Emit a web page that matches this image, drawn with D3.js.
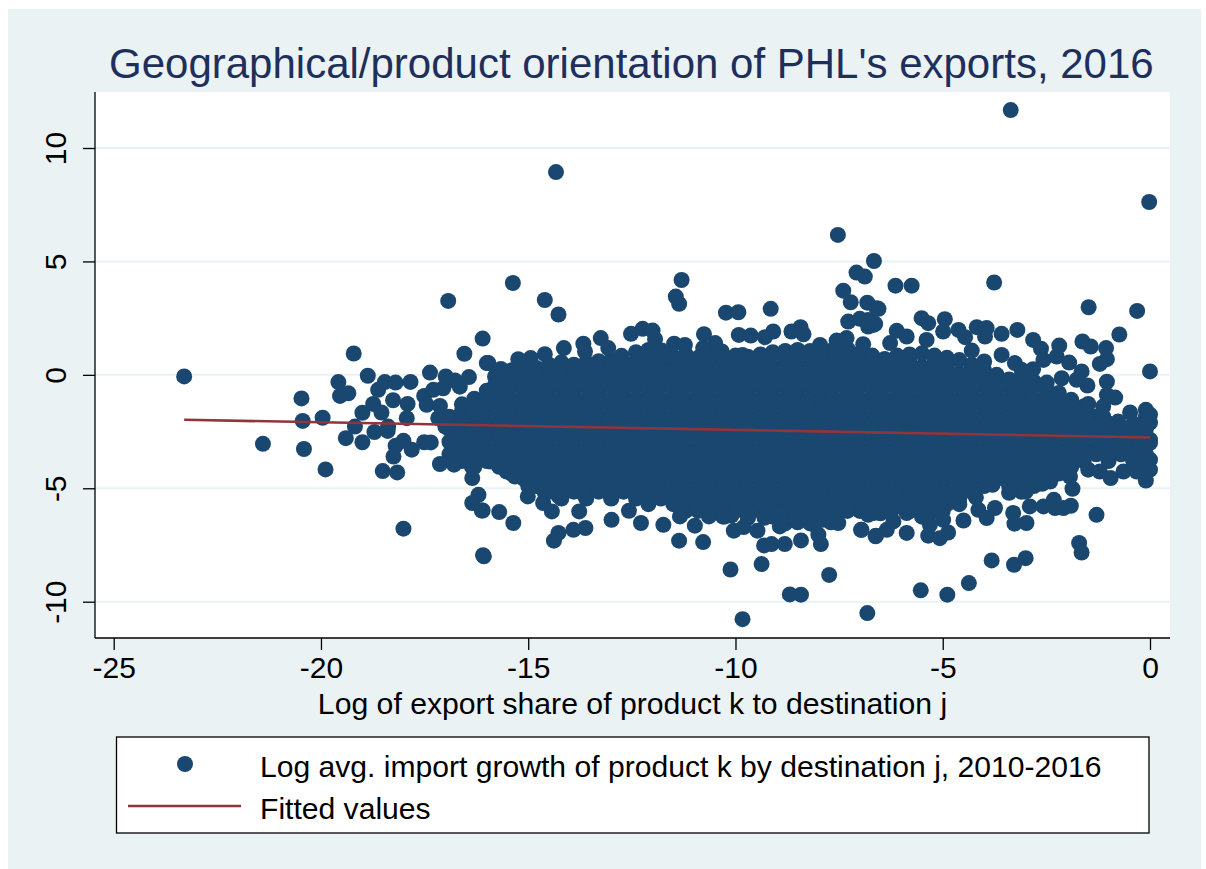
<!DOCTYPE html>
<html>
<head>
<meta charset="utf-8">
<script src="https://cdn.jsdelivr.net/npm/d3@7"></script>
<style>
body { margin: 0; background: #fff; }
text { font-family: "Liberation Sans", Arial, sans-serif; fill: #000; }
</style>
</head>
<body>
<div id="graph"></div>
<script>
"use strict";

var xTicks = [-25, -20, -15, -10, -5, 0];
var yTicks = [-10, -5, 0, 5, 10];

var titleText = "Geographical/product orientation of PHL's exports, 2016";
var xTitleText = "Log of export share of product k to destination j";
var legendLabels = ["Log avg. import growth of product k by destination j, 2010-2016", "Fitted values"];

// fitted line end points
var fittedX = [-23.3, 0];
var fittedY = [-1.98, -2.76];

// points clearly readable at the far left
var leftTail = [[-23.3,-0.07],[-20.47,-1.04],[-20.44,-2.03],[-19.96,-1.89],[-21.4,-3.04],[-20.41,-3.27],[-19.89,-4.17],
[-19.21,0.94],[-19.58,-0.32],[-19.34,-0.81],[-19.54,-0.93],[-18.87,-0.04],[-19,-1.67],[-19.18,-2.28],[-18.74,-1.28],
[-18.54,-1.66],[-19.4,-2.79],[-19,-2.97],[-18.71,-2.52],[-18.38,-2.28],[-18.39,-2.47],[-18.62,-0.66],[-18.46,-0.32],
[-18.2,-0.34],[-17.84,-0.31],[-18.26,-1.12],[-17.91,-1.28],[-17.93,-1.91],[-18.01,-2.91],[-18.2,-3.13],[-17.81,-3.3],
[-18.25,-3.6],[-18.51,-4.24],[-18.16,-4.3],[-17.51,-2.97],[-17.35,-2.98],[-18.01,-6.78],[-16.93,3.26],[-16.1,1.6],
[-16.54,0.93],[-16,0.52],[-17.37,0.1],[-16.99,-0.07],[-16.77,-0.25],[-16.43,-0.1],[-17.51,-0.93],[-17.29,-0.66],
[-17.05,-0.59],[-16.65,-0.52],[-17.45,-1.32],[-17.13,-1.37],[-17.17,-1.91],[-17,-2.28],[-17.13,-3.93],[-16.79,-3.96],
[-16.35,-4.55],[-16.36,-4.04],[-16.2,-5.29],[-16.35,-5.65],[-16.12,-5.98],[-16.09,-7.95]];

// points above the dense cloud
var upperEdge = [[-3.36,11.67],[-14.33,8.94],[-0.02,7.62],[-7.53,6.17],[-6.66,5.02],[-7.08,4.51],[-6.88,4.33],[-15.37,4.05],
[-14.6,3.3],[-14.27,2.66],[-11.3,4.18],[-11.44,3.45],[-11.36,3.13],[-10.23,2.74],[-9.93,2.76],[-9.15,2.91],[-7.4,3.71],
[-7.22,3.2],[-6.82,3.18],[-6.6,2.94],[-7.28,2.35],[-7,2.47],[-6.8,2.42],[-6.8,2.13],[-6.63,2.25],[-6.92,1.35],[-7.56,1.51],
[-7.32,1.62],[-7.96,1.32],[-8.43,2.1],[-8.65,1.91],[-8.36,1.79],[-9.09,1.91],[-9.29,1.66],[-9.92,1.76],[-9.63,1.73],
[-10.76,1.79],[-10.49,1.4],[-10.78,1.18],[-10.33,1.03],[-9.83,0.88],[-11.48,1.37],[-11.22,1.32],[-12.52,1.81],[-12.24,2.03],
[-12,1.95],[-11.94,1.57],[-11.78,1.07],[-12.34,0.84],[-13.25,1.62],[-13.07,1.18],[-13.67,1.37],[-13.63,1.03],[-14.14,1.18],
[-12.75,0.84],[-14.6,0.91],[-15.24,0.69],[-14.94,0.74],[-15.96,0.52],[-15.66,0.26],[-15.8,-0.07],[-15.8,-0.44],[-15.25,-0.07],
[-6.14,3.93],[-5.75,3.93],[-3.76,4.07],[-6.55,2.91],[-1.48,2.98],[-0.31,2.82],[-0.74,1.78],[-5.51,2.5],[-5.35,2.28],[-4.95,2.45],
[-6.67,2.2],[-6.11,1.94],[-5.87,1.69],[-6.27,1.4],[-5.39,1.54],[-4.99,1.91],[-4.62,1.98],[-4.46,1.66],[-4.3,1.07],[-4.18,2.1],
[-3.94,2.06],[-3.98,1.69],[-3.58,1.81],[-3.2,1.98],[-2.82,1.54],[-2.63,1.15],[-2.19,1.29],[-1.63,1.47],[-1.43,1.25],[-1.06,1.18],
[-1.04,0.69],[-1.21,0.48],[0,0.15],[-3.58,0.88],[-3.26,0.52],[-4,0.59],[-1.95,0.54],[-2.25,0.81],[-2.57,0.66],[-1.65,0.15],
[-2.82,0.25],[-3.1,0.22],[-1.51,-0.47],[-1.04,-0.3],[-1.77,-0.22],[-2.13,-0.15],[-2.49,-0.34],[-2.93,-0.3],[-2.07,-1.18],
[-1.04,-0.88],[-0.84,-1],[-1.49,-1.28],[-1.13,-1.4],[-0.48,-1.66],[-0.1,-1.54],[0,-1.76],[0,-2.11],[-0.77,-2.06],[-1.13,-1.84],
[-1.77,-1.69],[-2.01,-1.62]];

// points below the dense cloud
var lowerEdge = [[0,-2.86],[0,-3],[-0.2,-3.08],[0,-3.74],[0,-4.18],[-0.1,-4.66],[-0.32,-4.26],[-0.64,-4.26],[-0.95,-4.55],
[-1.21,-4.26],[-1.49,-4.18],[-0.41,-3.74],[-1.87,-5.02],[-1.93,-4.48],[-2.41,-4.7],[-1.29,-6.17],[-1.71,-7.41],[-1.65,-7.83],
[-3,-8.08],[-3.28,-8.37],[-3.82,-8.18],[-4.37,-9.18],[-4.89,-9.69],[-5.53,-9.5],[-1.91,-5.77],[-2.09,-5.87],[-2.32,-5.51],
[-2.29,-5.87],[-2.57,-5.8],[-2.9,-5.8],[-2.98,-6.53],[-3.27,-6.56],[-3.3,-6.09],[-3.94,-6.31],[-4.14,-5.95],[-3.74,-5.87],
[-4.5,-6.42],[-4.87,-6.95],[-5.07,-7.2],[-5.35,-7.09],[-5.31,-6.61],[-4.99,-6.39],[-5.87,-6.97],[-6.61,-7.09],[-6.35,-6.83],
[-6.96,-6.83],[-6.19,-6.46],[-5.87,-6.09],[-6.67,-6.09],[-9.83,-10.77],[-6.82,-10.5],[-8.69,-9.68],[-8.42,-9.69],[-7.74,-8.82],
[-10.12,-8.58],[-9.37,-8.34],[-16.07,-8],[-14.38,-7.31],[-14.27,-6.97],[-13.91,-6.83],[-13.62,-6.75],[-12.99,-6.39],[-13.77,-6.02],
[-14.43,-6.02],[-14.64,-5.65],[-15.01,-5.36],[-15.36,-6.53],[-15.7,-6.05],[-16.1,-5.98],[-15.92,-3.82],[-15.52,-4.26],[-15.32,-4.48],
[-14.96,-4.48],[-14.26,-5.36],[-13.65,-5.29],[-12.99,-5.43],[-12.57,-5.99],[-12.28,-6.53],[-11.74,-6.61],[-11.36,-7.31],[-10.78,-7.37],
[-10.98,-6.65],[-11.34,-6.24],[-10.64,-6.24],[-10.25,-6.24],[-10.04,-6.87],[-9.8,-6.71],[-9.47,-6.87],[-9.31,-7.52],[-9.13,-7.46],
[-8.81,-7.46],[-8.42,-7.3],[-7.94,-7.46],[-8,-7.05],[-8.93,-6.68],[-8.53,-6.39],[-7.52,-6.53],[-7.88,-6.39],[-6.97,-6.83],[-6.62,-7.12],
[-6.8,-6.17]];

// outline of the solid cloud, top side
var cloudTop = [[-16.6,-1.3],[-16.3,-1.05],[-16,-0.7],[-15.7,-0.3],[-15.4,0.2],[-15.1,0.25],[-14.8,0.3],[-14.5,0.45],[-14.2,0.55],
[-13.9,0.45],[-13.6,0.55],[-13.3,0.6],[-13,0.65],[-12.7,0.55],[-12.4,1],[-12.1,1.1],[-11.8,0.85],[-11.5,0.8],[-11.2,0.9],[-10.9,0.75],
[-10.6,0.85],[-10.3,0.7],[-10,0.85],[-9.7,0.8],[-9.4,0.9],[-9.1,1],[-8.8,1.05],[-8.5,1.1],[-8.2,1.05],[-7.9,1.1],[-7.6,1.2],[-7.3,1.15],
[-7,0.95],[-6.7,0.85],[-6.4,0.7],[-6.1,0.85],[-5.8,0.9],[-5.5,0.95],[-5.2,0.85],[-4.9,0.75],[-4.6,0.65],[-4.3,0.45],[-4,0.2],[-3.7,0],
[-3.4,-0.2],[-3.1,-0.1],[-2.8,-0.3],[-2.5,-0.55],[-2.2,-0.8],[-1.9,-1.1],[-1.6,-1.4]];

// outline of the solid cloud, bottom side
var cloudBottom = [[-15,-4.9],[-14.6,-5.2],[-11.3,-5.9],[-10.9,-6],[-10.5,-6],[-10.1,-6.2],[-9.7,-6.3],[-9.3,-6.3],[-8.9,-6.4],[-8.5,-6.5],
[-8.1,-6.6],[-7.7,-6.5],[-7.3,-6],[-6.9,-6],[-6.5,-6.1],[-6.2,-5.9],[-5.8,-6],[-5.4,-6.2],[-5,-6],[-4.6,-5.7],[-4.2,-5.4],[-3.8,-4.85],
[-3.4,-5.2],[-3,-5.15],[-2.6,-4.8],[-2.2,-4.3]];

// the solid middle of the cloud, where single points can only be estimated
var denseX = [-16.9,-16.6,-16.3,-16,-15.7,-15.4,-15.1,-14.8,-14.5,-14.2,-13.9,-13.6,-13.3,-13,-12.7,-12.4,-12.1,-11.8,-11.5,-11.2,
-10.9,-10.6,-10.3,-10,-9.7,-9.4,-9.1,-8.8,-8.5,-8.2,-7.9,-7.6,-7.3,-7,-6.7,-6.4,-6.1,-5.8,-5.5,-5.2,-4.9,-4.6,-4.3,-4,-3.7,-3.4,
-3.1,-2.8,-2.5,-2.2,-1.9,-1.6,-1.3,-1,-0.7,-0.4,-0.1];
var denseY = [
[-1.85,-2.4,-2.95,-3.5],
[-1.6,-2.15,-2.7,-3.25,-3.8],
[-1.3,-1.85,-2.4,-2.95,-3.5,-4.05],
[-1.05,-1.6,-2.15,-2.7,-3.25,-3.8],
[-0.75,-1.3,-1.85,-2.4,-2.95,-3.5,-4.05],
[0.05,-0.5,-1.05,-1.6,-2.15,-2.7,-3.25,-3.8,-4.35],
[-0.2,-0.75,-1.3,-1.85,-2.4,-2.95,-3.5,-4.05,-4.6],
[0.05,-0.5,-1.05,-1.6,-2.15,-2.7,-3.25,-3.8,-4.35,-4.9],
[0.35,-0.2,-0.75,-1.3,-1.85,-2.4,-2.95,-3.5,-4.05,-4.6,-5.15],
[0.05,-0.5,-1.05,-1.6,-2.15,-2.7,-3.25,-3.8,-4.35,-4.9,-5.45],
[0.35,-0.2,-0.75,-1.3,-1.85,-2.4,-2.95,-3.5,-4.05,-4.6,-5.15],
[0.05,-0.5,-1.05,-1.6,-2.15,-2.7,-3.25,-3.8,-4.35,-4.9,-5.45],
[0.35,-0.2,-0.75,-1.3,-1.85,-2.4,-2.95,-3.5,-4.05,-4.6,-5.15],
[0.6,0.05,-0.5,-1.05,-1.6,-2.15,-2.7,-3.25,-3.8,-4.35,-4.9,-5.45],
[0.35,-0.2,-0.75,-1.3,-1.85,-2.4,-2.95,-3.5,-4.05,-4.6,-5.15],
[0.6,0.05,-0.5,-1.05,-1.6,-2.15,-2.7,-3.25,-3.8,-4.35,-4.9,-5.45],
[0.9,0.35,-0.2,-0.75,-1.3,-1.85,-2.4,-2.95,-3.5,-4.05,-4.6,-5.15,-5.7],
[0.6,0.05,-0.5,-1.05,-1.6,-2.15,-2.7,-3.25,-3.8,-4.35,-4.9,-5.45],
[0.35,-0.2,-0.75,-1.3,-1.85,-2.4,-2.95,-3.5,-4.05,-4.6,-5.15,-5.7],
[0.6,0.05,-0.5,-1.05,-1.6,-2.15,-2.7,-3.25,-3.8,-4.35,-4.9,-5.45,-6],
[0.35,-0.2,-0.75,-1.3,-1.85,-2.4,-2.95,-3.5,-4.05,-4.6,-5.15,-5.7],
[0.6,0.05,-0.5,-1.05,-1.6,-2.15,-2.7,-3.25,-3.8,-4.35,-4.9,-5.45,-6],
[0.35,-0.2,-0.75,-1.3,-1.85,-2.4,-2.95,-3.5,-4.05,-4.6,-5.15,-5.7,-6.25],
[0.6,0.05,-0.5,-1.05,-1.6,-2.15,-2.7,-3.25,-3.8,-4.35,-4.9,-5.45,-6],
[0.35,-0.2,-0.75,-1.3,-1.85,-2.4,-2.95,-3.5,-4.05,-4.6,-5.15,-5.7,-6.25],
[0.6,0.05,-0.5,-1.05,-1.6,-2.15,-2.7,-3.25,-3.8,-4.35,-4.9,-5.45,-6],
[0.9,0.35,-0.2,-0.75,-1.3,-1.85,-2.4,-2.95,-3.5,-4.05,-4.6,-5.15,-5.7,-6.25],
[0.6,0.05,-0.5,-1.05,-1.6,-2.15,-2.7,-3.25,-3.8,-4.35,-4.9,-5.45,-6,-6.55],
[0.9,0.35,-0.2,-0.75,-1.3,-1.85,-2.4,-2.95,-3.5,-4.05,-4.6,-5.15,-5.7,-6.25],
[0.6,0.05,-0.5,-1.05,-1.6,-2.15,-2.7,-3.25,-3.8,-4.35,-4.9,-5.45,-6,-6.55],
[0.9,0.35,-0.2,-0.75,-1.3,-1.85,-2.4,-2.95,-3.5,-4.05,-4.6,-5.15,-5.7,-6.25],
[1.15,0.6,0.05,-0.5,-1.05,-1.6,-2.15,-2.7,-3.25,-3.8,-4.35,-4.9,-5.45,-6],
[0.9,0.35,-0.2,-0.75,-1.3,-1.85,-2.4,-2.95,-3.5,-4.05,-4.6,-5.15,-5.7],
[0.6,0.05,-0.5,-1.05,-1.6,-2.15,-2.7,-3.25,-3.8,-4.35,-4.9,-5.45,-6],
[0.35,-0.2,-0.75,-1.3,-1.85,-2.4,-2.95,-3.5,-4.05,-4.6,-5.15,-5.7],
[0.6,0.05,-0.5,-1.05,-1.6,-2.15,-2.7,-3.25,-3.8,-4.35,-4.9,-5.45,-6],
[0.35,-0.2,-0.75,-1.3,-1.85,-2.4,-2.95,-3.5,-4.05,-4.6,-5.15,-5.7],
[0.6,0.05,-0.5,-1.05,-1.6,-2.15,-2.7,-3.25,-3.8,-4.35,-4.9,-5.45,-6],
[0.35,-0.2,-0.75,-1.3,-1.85,-2.4,-2.95,-3.5,-4.05,-4.6,-5.15,-5.7,-6.25],
[0.6,0.05,-0.5,-1.05,-1.6,-2.15,-2.7,-3.25,-3.8,-4.35,-4.9,-5.45,-6],
[0.35,-0.2,-0.75,-1.3,-1.85,-2.4,-2.95,-3.5,-4.05,-4.6,-5.15,-5.7],
[0.05,-0.5,-1.05,-1.6,-2.15,-2.7,-3.25,-3.8,-4.35,-4.9,-5.45],
[0.35,-0.2,-0.75,-1.3,-1.85,-2.4,-2.95,-3.5,-4.05,-4.6,-5.15],
[0.05,-0.5,-1.05,-1.6,-2.15,-2.7,-3.25,-3.8,-4.35,-4.9],
[-0.2,-0.75,-1.3,-1.85,-2.4,-2.95,-3.5,-4.05,-4.6],
[-0.5,-1.05,-1.6,-2.15,-2.7,-3.25,-3.8,-4.35,-4.9],
[-0.2,-0.75,-1.3,-1.85,-2.4,-2.95,-3.5,-4.05,-4.6,-5.15],
[-0.5,-1.05,-1.6,-2.15,-2.7,-3.25,-3.8,-4.35,-4.9],
[-0.75,-1.3,-1.85,-2.4,-2.95,-3.5,-4.05,-4.6],
[-1.05,-1.6,-2.15,-2.7,-3.25,-3.8,-4.35],
[-1.3,-1.85,-2.4,-2.95,-3.5,-4.05],
[-1.6,-2.15,-2.7,-3.25,-3.8],
[-1.85,-2.4,-2.95,-3.5],
[-2.15,-2.7,-3.25,-3.8],
[-2.4,-2.95,-3.5],
[-2.15,-2.7,-3.25,-3.8],
[-1.85,-2.4,-2.95,-3.5,-4.05]];

var markerColor = "#1a476f";
var fitColor = "#90353b";
var bgColor = "#eaf2f3";

var width = 1206, height = 869;
var plot = {left: 95, right: 1170, top: 92, bottom: 638};

var x = d3.scaleLinear().domain([-25, 0]).range([113.7, 1150]);
var y = d3.scaleLinear().domain([10, -10]).range([148, 601.7]);

var svg = d3.select("#graph").append("svg")
    .attr("width", width)
    .attr("height", height)
    .style("display", "block");

svg.append("rect").attr("x", 8).attr("y", 9).attr("width", 1193).attr("height", 860).attr("fill", bgColor);
svg.append("rect")
    .attr("x", plot.left).attr("y", plot.top)
    .attr("width", plot.right - plot.left).attr("height", plot.bottom - plot.top)
    .attr("fill", "#fff");

// horizontal grid
svg.append("g").selectAll("line").data(yTicks).enter().append("line")
    .attr("x1", plot.left).attr("x2", plot.right)
    .attr("y1", function (d) { return y(d); })
    .attr("y2", function (d) { return y(d); })
    .attr("stroke", bgColor)
    .attr("stroke-width", 2);

// points
var densePoints = [];
denseX.forEach(function (cx, i) {
    denseY[i].forEach(function (cy) { densePoints.push([cx, cy]); });
});
var points = densePoints.concat(cloudTop, cloudBottom, leftTail, upperEdge, lowerEdge);

svg.append("g").selectAll("circle").data(points).enter().append("circle")
    .attr("cx", function (d) { return x(d[0]); })
    .attr("cy", function (d) { return y(d[1]); })
    .attr("r", 8)
    .attr("fill", markerColor);

// fitted line
var fitted = d3.line()
    .x(function (d) { return x(d); })
    .y(function (d, i) { return y(fittedY[i]); });
svg.append("path").datum(fittedX)
    .attr("d", fitted)
    .attr("fill", "none")
    .attr("stroke", fitColor)
    .attr("stroke-width", 2.6);

// axes
var xAxis = d3.axisBottom(x).tickValues(xTicks).tickFormat(d3.format("d")).tickSize(12).tickSizeOuter(0).tickPadding(6);
var yAxis = d3.axisLeft(y).tickValues(yTicks).tickFormat(d3.format("d")).tickSize(12).tickSizeOuter(0);

var xG = svg.append("g").attr("transform", "translate(0," + plot.bottom + ")").call(xAxis);
var yG = svg.append("g").attr("transform", "translate(" + plot.left + ",0)").call(yAxis);

xG.select(".domain").attr("d", "M" + plot.left + ",0H" + plot.right);
yG.select(".domain").attr("d", "M0," + plot.top + "V" + plot.bottom);

xG.selectAll("line, .domain").attr("stroke", "#000").attr("stroke-width", 1.3);
yG.selectAll("line, .domain").attr("stroke", "#000").attr("stroke-width", 1.3);

// replace the default tick minus sign with the plain hyphen of the original
xG.selectAll("text")
    .attr("font-size", 30)
    .attr("dy", null)
    .attr("y", 40)
    .text(function (d) { return String(d); });
yG.selectAll("text")
    .attr("font-size", 30)
    .attr("x", null)
    .attr("dy", null)
    .attr("text-anchor", "middle")
    .attr("transform", "translate(-29.5,0) rotate(-90)")
    .text(function (d) { return String(d); });

svg.append("text")
    .attr("x", 109).attr("y", 78)
    .attr("font-size", 42)
    .style("fill", "#1e2f5c")
    .text(titleText);

svg.append("text")
    .attr("x", 632.5).attr("y", 714)
    .attr("text-anchor", "middle")
    .attr("font-size", 30.2)
    .text(xTitleText);

// legend
var legend = svg.append("g");
legend.append("rect")
    .attr("x", 116.5).attr("y", 737)
    .attr("width", 1032.5).attr("height", 96)
    .attr("fill", "#fff")
    .attr("stroke", "#000")
    .attr("stroke-width", 1.3);
legend.append("circle").attr("cx", 185).attr("cy", 764).attr("r", 8).attr("fill", markerColor);
legend.append("line")
    .attr("x1", 128).attr("x2", 241)
    .attr("y1", 806).attr("y2", 806)
    .attr("stroke", fitColor)
    .attr("stroke-width", 2.6);
legend.selectAll("text").data(legendLabels).enter().append("text")
    .attr("x", 260)
    .attr("y", function (d, i) { return 777 + i * 41.5; })
    .attr("font-size", 30.1)
    .text(function (d) { return d; });
</script>
</body>
</html>
